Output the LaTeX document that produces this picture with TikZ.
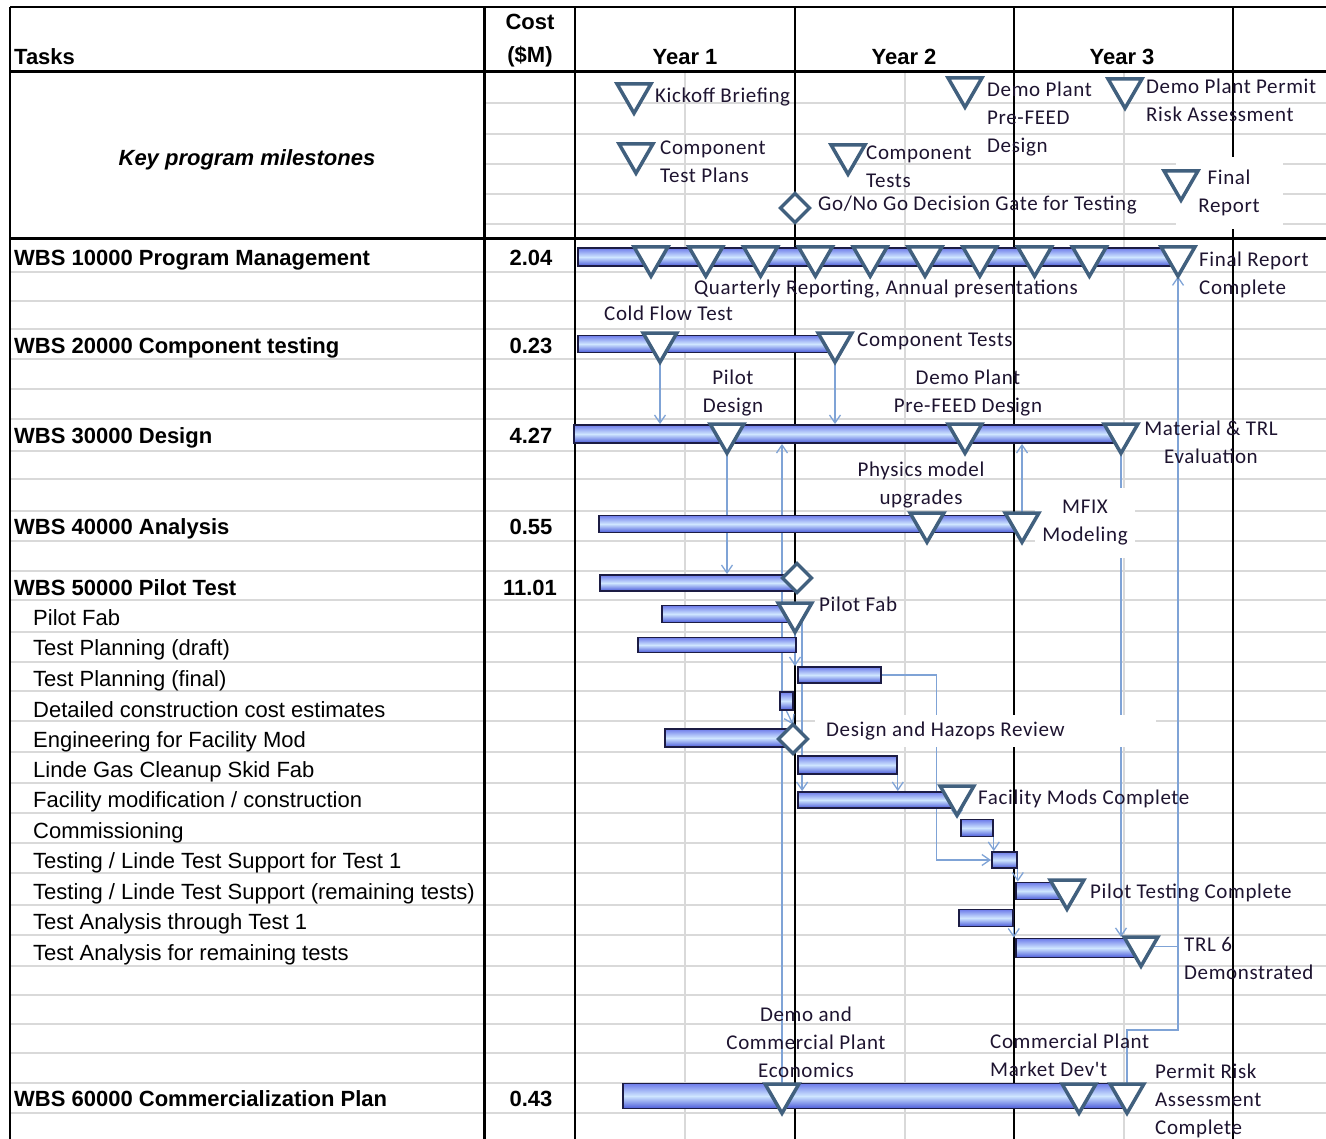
\documentclass[tikz,border=0pt]{standalone}
\usepackage{fontspec}
\setmainfont{Liberation Sans}
\newfontfamily\chartfont[LetterSpace=3]{Carlito}
\usetikzlibrary{positioning, arrows.meta, shapes.geometric}

\definecolor{gridgrey}{HTML}{D9D9D9}
\definecolor{barline}{HTML}{1C1C44}
\definecolor{bartop}{HTML}{6E7CEA}
\definecolor{barmid}{HTML}{CFE6FF}
\definecolor{barbot}{HTML}{4A5ADA}
\definecolor{msblue}{HTML}{41607E}
\definecolor{linkblue}{HTML}{7FA3D6}
\definecolor{notetext}{HTML}{1E1430}

\pgfdeclarelayer{bg}
\pgfdeclarelayer{links}
\pgfdeclarelayer{notes}
\pgfsetlayers{bg,links,notes,main}

\begin{document}
\begin{tikzpicture}[x=1pt, y=-1pt]
    \tikzset{
      gridline/.style={draw=gridgrey, line width=1.2pt},
      rule/.style={draw=black, line width=1.8pt},
      heavyrule/.style={draw=black, line width=3pt},
      taskbar/.style={
        draw=barline, line width=1.8pt,
        top color=bartop, bottom color=barbot, middle color=barmid,
        minimum height=17pt, inner sep=0pt, anchor=west
      },
      mstone/.style={
        regular polygon, regular polygon sides=3, shape border rotate=180,
        draw=msblue, line width=3.5pt, fill=white,
        minimum size=39pt, inner sep=0pt, outer sep=0pt, anchor=north
      },
      gate/.style={
        diamond, draw=msblue, line width=3.5pt, fill=white,
        minimum width=29pt, minimum height=29pt, inner sep=0pt, outer sep=0pt
      },
      dep/.style={draw=linkblue, line width=1.3pt, -{Straight Barb[length=8pt,width=11pt]}},
      link/.style={draw=linkblue, line width=1.3pt},
      head/.style={font=\fontsize{22}{26}\selectfont\bfseries, inner sep=0pt, anchor=base},
      wbs/.style={font=\fontsize{22}{26}\selectfont\bfseries, inner sep=0pt, anchor=base west},
      subtask/.style={font=\fontsize{22}{26}\selectfont, inner sep=0pt, anchor=base west},
      note/.style={font=\chartfont\fontsize{21}{28}\selectfont, text=notetext,
        inner sep=0pt, anchor=north west, align=left},
      notemid/.style={note, anchor=north, align=center},
      notebox/.style={note, fill=white}
    }

    \useasboundingbox (0,0) rectangle (1326,1139);

    % Grid and frame
    \begin{pgfonlayer}{bg}
      \foreach \y in {272,301,329,359,389,419,451,479,511,541,571,600,632,662,691,721,752,783,813,843,873,905,935,966,995,1024,1053,1083,1113}
        \draw[gridline] (10,\y) -- (1326,\y);
      \foreach \y in {103,134,164,194,224}
        \draw[gridline] (484,\y) -- (1326,\y);
      \foreach \x in {685,905,1124}
        \draw[gridline] (\x,72) -- (\x,1139);
      \draw[rule] (10,7) -- (1326,7);
      \draw[heavyrule] (10,72) -- (1326,72);
      \draw[heavyrule] (10,239) -- (1326,239);
      \draw[rule] (10,7) -- (10,1139);
      \draw[heavyrule] (484,7) -- (484,1139);
      \foreach \x in {575,795,1014,1233}
        \draw[rule] (\x,7) -- (\x,1139);
    \end{pgfonlayer}

    % Header
    \node[wbs] (hTasks) at (14,65) {Tasks};
    \node[head] (hCost) at (530,30) {Cost};
    \node[head] (hUnit) at (530,63) {(\$M)};
    \node[head] (hY1) at (685,65) {Year 1};
    \node[head] (hY2) at (904,65) {Year 2};
    \node[head] (hY3) at (1122,65) {Year 3};
    \node[head, font=\fontsize{22}{26}\selectfont\bfseries\itshape] (hKey) at (247,166) {Key program milestones};

    % Task column
    \node[wbs] (t10) at (14,266) {WBS 10000 Program Management};
    \node[wbs] (t20) at (14,354) {WBS 20000 Component testing};
    \node[wbs] (t30) at (14,444) {WBS 30000 Design};
    \node[wbs] (t40) at (14,534) {WBS 40000 Analysis};
    \node[wbs] (t50) at (14,595) {WBS 50000 Pilot Test};
    \node[subtask] (s1) at (33,625) {Pilot Fab};
    \node[subtask] (s2) at (33,655) {Test Planning (draft)};
    \node[subtask] (s3) at (33,686) {Test Planning (final)};
    \node[subtask] (s4) at (33,717) {Detailed construction cost estimates};
    \node[subtask] (s5) at (33,747) {Engineering for Facility Mod};
    \node[subtask] (s6) at (33,777) {Linde Gas Cleanup Skid Fab};
    \node[subtask] (s7) at (33,807) {Facility modification / construction};
    \node[subtask] (s8) at (33,838) {Commissioning};
    \node[subtask] (s9) at (33,868) {Testing / Linde Test Support for Test 1};
    \node[subtask] (s10) at (33,899) {Testing / Linde Test Support (remaining tests)};
    \node[subtask] (s11) at (33,929) {Test Analysis through Test 1};
    \node[subtask] (s12) at (33,960) {Test Analysis for remaining tests};
    \node[wbs] (t60) at (14,1106) {WBS 60000 Commercialization Plan};

    % Cost column
    \node[head] (c10) at (531,266) {2.04};
    \node[head] (c20) at (531,354) {0.23};
    \node[head] (c30) at (531,444) {4.27};
    \node[head] (c40) at (531,534) {0.55};
    \node[head] (c50) at (530,595) {11.01};
    \node[head] (c60) at (531,1106) {0.43};

    % Bars
    \node[taskbar, minimum width=603pt, minimum height=18pt] (bar10) at (577,257) {};
    \node[taskbar, minimum width=258pt] (bar20) at (577,344) {};
    \node[taskbar, minimum width=547pt, minimum height=18pt] (bar30) at (573,434) {};
    \node[taskbar, minimum width=422pt] (bar40) at (598,524) {};
    \node[taskbar, minimum width=196pt, minimum height=16pt] (bar50) at (599,583) {};
    \node[taskbar, minimum width=134pt] (barPF) at (661,614) {};
    \node[taskbar, minimum width=158pt, minimum height=15pt] (barTPd) at (637,645) {};
    \node[taskbar, minimum width=83pt, minimum height=16pt] (barTPf) at (797,675) {};
    \node[taskbar, minimum width=13pt, minimum height=18pt] (barDC) at (779,701) {};
    \node[taskbar, minimum width=126pt, minimum height=18pt] (barEF) at (664,738) {};
    \node[taskbar, minimum width=99pt, minimum height=18pt] (barLG) at (797,765) {};
    \node[taskbar, minimum width=158pt, minimum height=16pt] (barFM) at (797,800) {};
    \node[taskbar, minimum width=32pt] (barCM) at (960,828) {};
    \node[taskbar, minimum width=25pt, minimum height=16pt] (barT1) at (991,860) {};
    \node[taskbar, minimum width=52pt] (barTR) at (1015,891) {};
    \node[taskbar, minimum width=54pt] (barA1) at (958,918) {};
    \node[taskbar, minimum width=124pt, minimum height=19pt] (barAR) at (1015,948) {};
    \node[taskbar, minimum width=505pt, minimum height=25pt] (bar60) at (622,1096) {};

    % Key milestones
    \node[mstone] (msKick) at (634,84) {};
    \node[mstone] (msCTP) at (636,144) {};
    \node[mstone] (msCT) at (848,145) {};
    \node[gate] (gGo) at (795,208) {};
    \node[mstone] (msDemo) at (965,78) {};
    \node[mstone] (msPermit) at (1125,79) {};
    \node[mstone] (msFinal) at (1181,171) {};

    % Milestones on bars
    \foreach \i in {0,...,8}
      \node[mstone] (mq\i) at ({651+54.8*\i},247) {};
    \node[mstone] (msFinRep) at (1178,247) {};
    \node[mstone] (msCold) at (660,333) {};
    \node[mstone] (msCompT) at (835,333) {};
    \node[mstone] (msPilotD) at (727,424) {};
    \node[mstone] (msPreFeed) at (965,424) {};
    \node[mstone] (msMatl) at (1121,424) {};
    \node[mstone] (msPhys) at (927,513) {};
    \node[mstone] (msMFIX) at (1022,513) {};
    \node[gate] (gPilot) at (797,578) {};
    \node[mstone] (msPFab) at (795,603) {};
    \node[gate] (gEng) at (793,739) {};
    \node[mstone] (msFacMod) at (957,786) {};
    \node[mstone] (msPTC) at (1067,880) {};
    \node[mstone] (msTRL) at (1141,937) {};
    \node[mstone] (msEcon) at (782,1084) {};
    \node[mstone] (msMkt) at (1079,1084) {};
    \node[mstone] (msPRA) at (1127,1084) {};

    % Labels
    \begin{pgfonlayer}{notes}
      \node[note] (nKick) at (655,88) {Kickoff Briefing};
      \node[note] (nCTP) at (660,141) {Component\\Test Plans};
      \node[note] (nCT) at (866,146) {Component\\Tests};
      \node[note] (nGo) at (818,196) {Go/No Go Decision Gate for Testing};
      \node[note] (nDemo) at (987,82) {Demo Plant\\Pre-FEED\\Design};
      \node[note] (nPermit) at (1146,79) {Demo Plant Permit\\Risk Assessment};
      \node[notebox, anchor=center, align=center, minimum width=107pt, minimum height=72pt] (nFinal) at (1229,193) {Final\\Report};
      \node[note] (nFinRep) at (1199,252) {Final Report\\Complete};
      \node[notemid] (nQtr) at (886,280) {Quarterly Reporting, Annual presentations};
      \node[note] (nCold) at (604,306) {Cold Flow Test};
      \node[note] (nCompT) at (857,333) {Component Tests};
      \node[notemid] (nPilotD) at (733,370) {Pilot\\Design};
      \node[notemid] (nPreFeed) at (968,370) {Demo Plant\\Pre-FEED Design};
      \node[notemid] (nMatl) at (1211,421) {Material \& TRL\\Evaluation};
      \node[notemid] (nPhys) at (921,462) {Physics model\\upgrades};
      \node[notebox, anchor=center, align=center, minimum width=100pt, minimum height=70pt] (nMFIX) at (1085,523) {MFIX\\Modeling};
      \node[note] (nPFab) at (819,597) {Pilot Fab};
      \node[notebox, anchor=west, align=flush left, text width=319pt, inner xsep=11pt, minimum height=32pt] (nHaz) at (815,731) {Design and Hazops Review};
      \node[note] (nFac) at (978,790) {Facility Mods Complete};
      \node[note] (nPTC) at (1090,884) {Pilot Testing Complete};
      \node[note] (nTRL) at (1184,937) {TRL 6\\Demonstrated};
      \node[notemid] (nEcon) at (806,1007) {Demo and\\Commercial Plant\\Economics};
      \node[note] (nMkt) at (990,1034) {Commercial Plant\\Market Dev't};
      \node[note] (nPRA) at (1155,1064) {Permit Risk\\Assessment\\Complete};
    \end{pgfonlayer}

    % Dependencies
    \coordinate (jPRA) at (msFinRep.south |- 0,1030);
    \begin{pgfonlayer}{links}
      \draw[dep] (msCold.south) -- (msCold.south |- bar30.north);
      \draw[dep] (msCompT.south) -- (msCompT.south |- bar30.north);
      \draw[dep] (msPilotD.south) -- (msPilotD.south |- bar50.north);
      \draw[dep] (msEcon.north) -- (msEcon.north |- bar30.south);
      \draw[dep] (msMFIX.north) -- (msMFIX.north |- bar30.south);
      \draw[dep] (msMatl.south) -- (msMatl.south |- msTRL.north);
      \draw[dep] (msTRL.east) -| (msFinRep.south);
      \draw[link] (msPRA.north) |- (jPRA) -- (jPRA |- msTRL.east);
      \draw[dep] (msPFab.south) -- (msPFab.south |- barTPf.north);
      \draw[dep] (msPFab.south east) -- (msPFab.south east |- barFM.north);
      \draw[dep] (barDC.south) -- (gEng.north);
      \draw[dep] (barLG.south east) -- (barLG.south east |- barFM.north);
      \draw[dep] (barTPf.east) -- ++(55,0) |- (barT1.west);
      \draw[dep] (msFacMod.south) -- (msFacMod.south |- barCM.north);
      \draw[dep] (barCM.south east) -- (barCM.south east |- barT1.north);
      \draw[dep] (barT1.south east) -- (barT1.south east |- barTR.north);
      \draw[dep] (barA1.south east) -- (barA1.south east |- barAR.north);
    \end{pgfonlayer}
  \end{tikzpicture}
\end{document}
